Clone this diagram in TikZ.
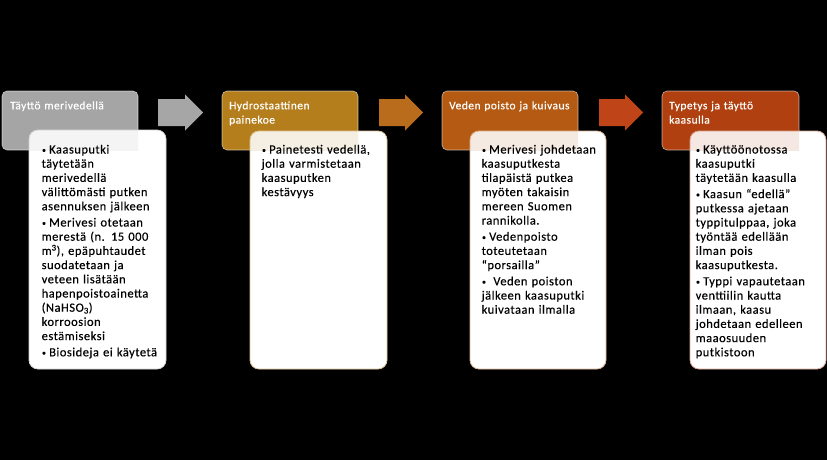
\documentclass[tikz,border=0pt]{standalone}
\usepackage{fontspec}
\setmainfont{Carlito}[LetterSpace=4,FakeBold=0.3]
\definecolor{hA}{HTML}{A5A5A5}
\definecolor{hB}{HTML}{B47E1C}
\definecolor{hC}{HTML}{B45A12}
\definecolor{hD}{HTML}{B0400F}
\definecolor{aA}{HTML}{A6A6A6}
\definecolor{aB}{HTML}{B86C1C}
\definecolor{aC}{HTML}{BF4519}
\newcommand{\bfirst}{\hangindent=7.5pt\hangafter=1\noindent\makebox[7.5pt][l]{\hspace{0.3pt}\raisebox{0.8pt}{\fontsize{8}{8}\selectfont\textbullet}}}
\newcommand{\bitem}{\par\vspace{2pt}\bfirst}
\begin{document}
\begin{tikzpicture}[x=1pt,y=-1pt,
  headbox/.style={draw=white, draw opacity=0.6, line width=0.6pt, rounded corners=5pt},
  bodybox/.style={fill=white, line width=0.8pt, rounded corners=9pt},
  headtext/.style={anchor=base west, inner sep=0pt, text=white, font=\fontsize{11.5}{14.3}\selectfont, text width=128pt, align=left},
  bodytext/.style={anchor=base west, inner sep=0pt, text=black, font=\fontsize{12.5}{14.2}\selectfont, text width=126pt, align=left}
]
\fill[black] (0,0) rectangle (827,460);
\useasboundingbox (0,0) rectangle (827,460);

% ---- Step 1
\draw[headbox, fill=hA] (2,91) rectangle (138,150);
\node[headtext] (h1) at (10,109.3) {Täyttö merivedellä};
\draw[bodybox, draw=hA!45] (29,130) rectangle (166,369);
\begin{scope}
\clip (2,91) rectangle (138,150);
\fill[hA, opacity=0.12, rounded corners=9pt] (29,130) rectangle (166,369);
\end{scope}
\node[bodytext] (b1) at (41.5,153.5) {%
\bfirst Kaasuputki\\täytetään\\merivedellä\\välittömästi putken\\asennuksen jälkeen
\bitem Merivesi otetaan\\merestä (n. 15 000\\m\textsuperscript{3}), epäpuhtaudet\\suodatetaan ja\\veteen lisätään\\hapenpoistoainetta\\(NaHSO\textsubscript{3})\\korroosion\\estämiseksi
\bitem Biosideja ei käytetä};

% ---- Arrow 1
\fill[aA] (158,99) -- (185,99) -- (185,94.5) -- (203,112.5) -- (185,130.5) -- (185,126) -- (158,126) -- cycle;

% ---- Step 2
\draw[headbox, fill=hB] (222,91) rectangle (358,150);
\node[headtext] (h2) at (229,109.3) {Hydrostaattinen\\painekoe};
\draw[bodybox, draw=hB!45] (250,131) rectangle (387,369);
\begin{scope}
\clip (222,91) rectangle (358,150);
\fill[hB, opacity=0.12, rounded corners=9pt] (250,131) rectangle (387,369);
\end{scope}
\node[bodytext] (b2) at (261.5,153.5) {%
\bfirst Painetesti vedellä,\\jolla varmistetaan\\kaasuputken\\kestävyys};

% ---- Arrow 2
\fill[aB] (379,99) -- (405,99) -- (405,94.5) -- (423,112.5) -- (405,130.5) -- (405,126) -- (379,126) -- cycle;

% ---- Step 3
\draw[headbox, fill=hC] (442,91) rectangle (578,150);
\node[headtext] (h3) at (449,109.3) {Veden poisto ja kuivaus};
\draw[bodybox, draw=hC!45] (470,131) rectangle (606,369);
\begin{scope}
\clip (442,91) rectangle (578,150);
\fill[hC, opacity=0.12, rounded corners=9pt] (470,131) rectangle (606,369);
\end{scope}
\node[bodytext] (b3) at (481.5,153.5) {%
\bfirst Merivesi johdetaan\\kaasuputkesta\\tilapäistä putkea\\myöten takaisin\\mereen Suomen\\rannikolla.
\bitem Vedenpoisto\\toteutetaan\\“porsailla”
\bitem \ Veden poiston\\jälkeen kaasuputki\\kuivataan ilmalla};

% ---- Arrow 3
\fill[aC] (599,99) -- (625,99) -- (625,94.5) -- (643,112.5) -- (625,130.5) -- (625,126) -- (599,126) -- cycle;

% ---- Step 4
\draw[headbox, fill=hD] (662,91) rectangle (799,150);
\node[headtext] (h4) at (669,109.3) {Typetys ja täyttö\\kaasulla};
\draw[bodybox, draw=hD!45] (690,131) rectangle (826,369);
\begin{scope}
\clip (662,91) rectangle (799,150);
\fill[hD, opacity=0.12, rounded corners=9pt] (690,131) rectangle (826,369);
\end{scope}
\node[bodytext] (b4) at (695.5,153.5) {%
\bfirst Käyttöönotossa\\kaasuputki\\täytetään kaasulla
\bitem Kaasun “edellä”\\putkessa ajetaan\\typpitulppaa, joka\\työntää edellään\\ilman pois\\kaasuputkesta.
\bitem Typpi vapautetaan\\venttiilin kautta\\ilmaan, kaasu\\johdetaan edelleen\\maaosuuden\\putkistoon};
\end{tikzpicture}
\end{document}
